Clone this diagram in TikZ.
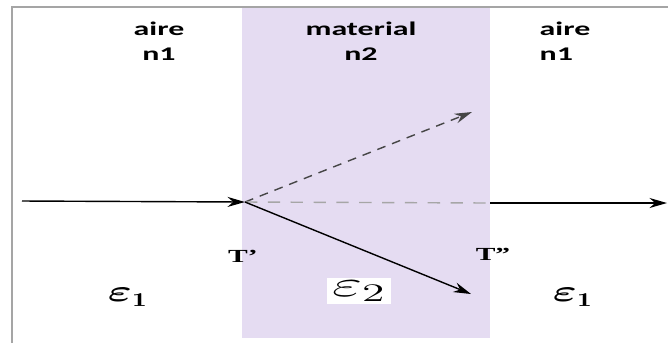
\documentclass[tikz,border=0pt]{standalone}
\usepackage{amsmath}
\usepackage{bm}
\usepackage{fontspec}
\usepackage{tikz}
\usetikzlibrary{arrows.meta}
\newfontfamily\lblfont{Carlito}
\newfontfamily\ptfont{Liberation Serif}
\definecolor{lilac}{RGB}{229,220,242}
\definecolor{framegrey}{RGB}{165,165,165}
\definecolor{raygrey}{RGB}{70,70,70}
\tikzset{
  medium/.style  = {font=\lblfont\bfseries\fontsize{11}{14}\selectfont, xscale=1.65, inner sep=1pt},
  pt/.style      = {font=\ptfont\bfseries\fontsize{10.5}{12}\selectfont, xscale=1.6, inner sep=1pt},
  eps/.style     = {font=\fontsize{16}{18}\selectfont, xscale=1.5, inner sep=1pt},
  ray/.style     = {-{Stealth[length=3.5mm,width=2mm]}, line width=0.8pt},
  wave/.style    = {ray, dashed, dash pattern=on 5pt off 4pt, raygrey},
  axis/.style    = {dash pattern=on 7pt off 6pt, line width=0.8pt, black!35},
}

\begin{document}
\begin{tikzpicture}[x=0.02cm,y=-0.02cm]
  \useasboundingbox (0,0) rectangle (668,343);
  % slab of material
  \fill[lilac] (242,8) rectangle (490,338);
  \draw[framegrey, line width=1.2pt] (12,343) -- (12,7) -- (668,7);
  % media labels
  \node[medium, align=center] (airL) at (159,41) {aire\\n1};
  \node[medium, align=center] (mat)  at (361,41) {material\\n2};
  \node[medium, align=left]   (airR) at (565,41) {aire\\n1};
  % points on the interfaces
  \coordinate (src)  at (22,201);
  \coordinate (hit)  at (245,202);
  \coordinate (up)   at (472,112);
  \coordinate (down) at (471,294);
  \coordinate (exit) at (490,203);
  \coordinate (out)  at (667,203);
  % rays
  \draw[ray] (src) -- (hit);
  \draw[wave] (hit) -- (up);
  \draw[axis] (hit) -- (exit);
  \draw[ray] (hit) -- (down);
  \draw[ray] (exit) -- (out);
  % transmission points
  \node[pt] (tone) at (243,256) {T’};
  \node[pt] (ttwo) at (493,254) {T”};
  % permittivities
  \node[eps] (epsL) at (128,297) {$\bm{\varepsilon}_{\mathbf{1}}$};
  \node[eps, font=\fontsize{20}{22}\selectfont, xscale=1.2, fill=white, inner sep=1.5pt] (epsM) at (359,291) {$\varepsilon_2$};
  \node[eps] (epsR) at (573,297) {$\bm{\varepsilon}_{\mathbf{1}}$};
\end{tikzpicture}
\end{document}
